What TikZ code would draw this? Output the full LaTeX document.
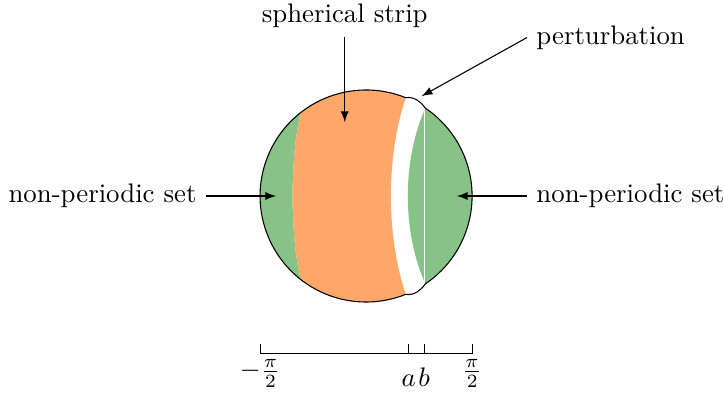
\documentclass[tikz,border=0pt]{standalone}
\usepackage{xcolor}
\usepackage{tikz}
\definecolor{SSOrange}{HTML}{FFA869}
\definecolor{SSGreen}{HTML}{87C286}

\begin{document}
\begin{tikzpicture}[x=1cm,y=1cm]
\path[use as bounding box] (-4.80,-2.65) rectangle (4.68,2.57);
% non-periodic parts
\fill[SSGreen] (128:1.39) arc[start angle=128,end angle=232,radius=1.39] .. controls (-1.00,-0.52) and (-1.00,0.52) .. cycle;
\fill[SSGreen] (56:1.39) .. controls (0.47,0.46) and (0.47,-0.46) .. (-56:1.39) arc[start angle=-56,end angle=56,radius=1.39] -- cycle;
\draw[white,line width=0.3pt] (0.76,1.16) -- (0.76,-1.16);
% spherical strip
\fill[SSOrange] (128:1.39) .. controls (-1.00,0.52) and (-1.00,-0.52) .. (232:1.39) arc[start angle=232,end angle=292,radius=1.39] .. controls (0.26,-0.52) and (0.26,0.52) .. (68:1.39) arc[start angle=68,end angle=128,radius=1.39] -- cycle;
% outline with the perturbation
\draw[line width=0.4pt] (68:1.39) arc[start angle=68,end angle=292,radius=1.39] .. controls (0.63,-1.31) and (0.72,-1.23) .. (-56:1.39) arc[start angle=-56,end angle=56,radius=1.39] .. controls (0.72,1.23) and (0.63,1.31) .. cycle;
% axis
\draw (-1.39,-2.07) -- (1.39,-2.07);
\draw (-1.39,-2.07) -- (-1.39,-1.94);
\draw (0.56,-2.07) -- (0.56,-1.94);
\draw (0.76,-2.07) -- (0.76,-1.94);
\draw (1.39,-2.07) -- (1.39,-1.94);
\node[anchor=base] (lo) at (-1.39,-2.385) {$-\frac{\pi}{2}$};
\node[anchor=base] (la) at (0.56,-2.50) {$a$};
\node[anchor=base] (lb) at (0.76,-2.50) {$b$};
\node[anchor=base] (hi) at (1.39,-2.385) {$\frac{\pi}{2}$};
% labels
\node[anchor=base] (strip) at (-0.28,2.28) {spherical strip};
\coordinate (stripTip) at (-0.28,0.97);
\draw[-latex] (strip.south) -- (stripTip);
\node[anchor=base west] (pert) at (2.11,1.99) {perturbation};
\coordinate (pertTip) at (0.73,1.31);
\draw[-latex] (pert.west) -- (pertTip);
\node[anchor=east] (npsL) at (-2.10,0) {non-periodic set};
\coordinate (npsLTip) at (-1.18,0);
\draw[-latex] (npsL) -- (npsLTip);
\node[anchor=west] (npsR) at (2.11,0) {non-periodic set};
\coordinate (npsRTip) at (1.19,0);
\draw[-latex] (npsR) -- (npsRTip);
\end{tikzpicture}
\end{document}
